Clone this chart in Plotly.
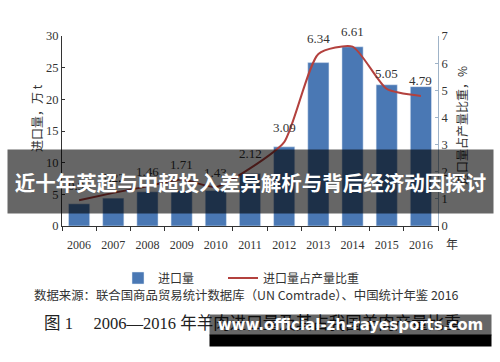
import plotly.graph_objects as go

years = ['2006', '2007', '2008', '2009', '2010', '2011', '2012', '2013', '2014', '2015', '2016']
import_vol = [3.5, 4.4, 5.4, 5.6, 5.6, 8.3, 12.5, 25.8, 28.3, 22.3, 22.0]
ratio = [0.95, 1.22, 1.46, 1.71, 1.43, 2.12, 3.09, 6.34, 6.61, 5.05, 4.79]

bar_name = '进口量'
line_name = '进口量占产量比重'
left_title = '进口量，万 t'
right_title = '进口量占产量比重，%'
source_text = '数据来源：联合国商品贸易统计数据库（UN Comtrade）、中国统计年鉴 2016'
caption_text = '图 1\u3000 2006—2016 年羊肉进口量及其占我国羊肉产量比重'
banner_text = '近十年英超与中超投入差异解析与背后经济动因探讨'
watermark_text = 'www.official-zh-rayesports.com'

W, H = 500, 362
L, R, T, B = 62, 438, 36, 226


def px(xp):
    return (xp - L) / (R - L)


def py(yp):
    return (B - yp) / (B - T)


SERIF = 'Liberation Serif, Noto Sans CJK SC, serif'
CJK = 'Noto Sans CJK SC, sans-serif'
TXT = '#333333'


def pann(x, y, text, font, **kw):
    d = dict(x=px(x), y=py(y), xref='paper', yref='paper', text=text, showarrow=False,
             xanchor='center', yanchor='middle', font=font)
    d.update(kw)
    return d


fig = go.Figure()
fig.add_bar(x=years, y=import_vol, name=bar_name, marker_color='#4a78b4', width=0.62,
            legend='legend')
fig.add_scatter(x=years, y=ratio, name=line_name, yaxis='y2', mode='lines', legend='legend2',
                line=dict(color='#b3413e', width=2, shape='spline', smoothing=0.6))

annotations = []
for i, v in enumerate(ratio):
    annotations.append(dict(x=i, y=v, xref='x', yref='y2', text=f'{v:.2f}', showarrow=False,
                            xanchor='center', yanchor='middle',
                            yshift=15, font=dict(family=SERIF, size=13, color=TXT)))

annotations += [
    pann(36, 118, left_title, dict(family=CJK, size=12, color=TXT), textangle=-90),
    pann(461, 126, right_title, dict(family=CJK, size=12, color=TXT), textangle=-90),
    pann(452, 243, '年', dict(family=CJK, size=12, color=TXT)),
    pann(246, 295, source_text, dict(family=CJK, size=12.4, color=TXT)),
    pann(252, 323, caption_text, dict(family=SERIF, size=16.5, color='#222222')),
    # overlay banner
    pann(250.5, 181.5, '<b>' + banner_text + '</b>', dict(family=CJK, size=20.5, color='white'),
         bgcolor='rgba(0,0,0,0.6)', width=485, height=63, borderpad=0, align='center'),
    # watermark boxes
    pann(350.5, 325, '<b>' + watermark_text + '</b>',
         dict(family='DejaVu Sans, sans-serif', size=15, color='white'),
         bgcolor='rgba(0,0,0,0.6)', width=281, height=20, borderpad=0, align='center'),
    pann(350.5, 340.5, ' ', dict(family=CJK, size=8, color='black'),
         bgcolor='black', width=281, height=11, borderpad=0),
]

legend_font = dict(family=CJK, size=12, color=TXT)
fig.update_layout(
    width=W, height=H,
    margin=dict(l=L, r=W - R, t=T, b=H - B),
    paper_bgcolor='white', plot_bgcolor='white',
    showlegend=True,
    legend=dict(orientation='h', x=px(118), y=py(278), xanchor='left', yanchor='middle',
                font=legend_font, bgcolor='rgba(0,0,0,0)'),
    legend2=dict(orientation='h', x=px(223), y=py(278), xanchor='left', yanchor='middle',
                 font=legend_font, bgcolor='rgba(0,0,0,0)'),
    xaxis=dict(type='category', range=[-0.5, len(years) - 0.5], showline=True,
               linecolor='#333333', linewidth=1, tickangle=0, ticklabelstandoff=8,
               ticks='outside', ticklen=4, tickcolor='#333333', tickson='boundaries',
               tickfont=dict(family=SERIF, size=12, color=TXT), showgrid=False),
    yaxis=dict(range=[0, 30], dtick=5, showline=True, linecolor='#333333', linewidth=1,
               ticks='inside', ticklen=3, tickcolor='#333333', showgrid=False, zeroline=False,
               tickfont=dict(family=SERIF, size=12.5, color=TXT)),
    yaxis2=dict(range=[0, 7], dtick=1, overlaying='y', side='right', showline=True,
                linecolor='#9fb3c8', linewidth=1, ticks='inside', ticklen=3, tickcolor='#9fb3c8',
                showgrid=False, zeroline=False,
                tickfont=dict(family=SERIF, size=12.5, color=TXT)),
    annotations=annotations,
    bargap=0.38,
)

fig.write_html('out.html', config={'displayModeBar': False},
               post_script="document.body.style.margin='0';")
